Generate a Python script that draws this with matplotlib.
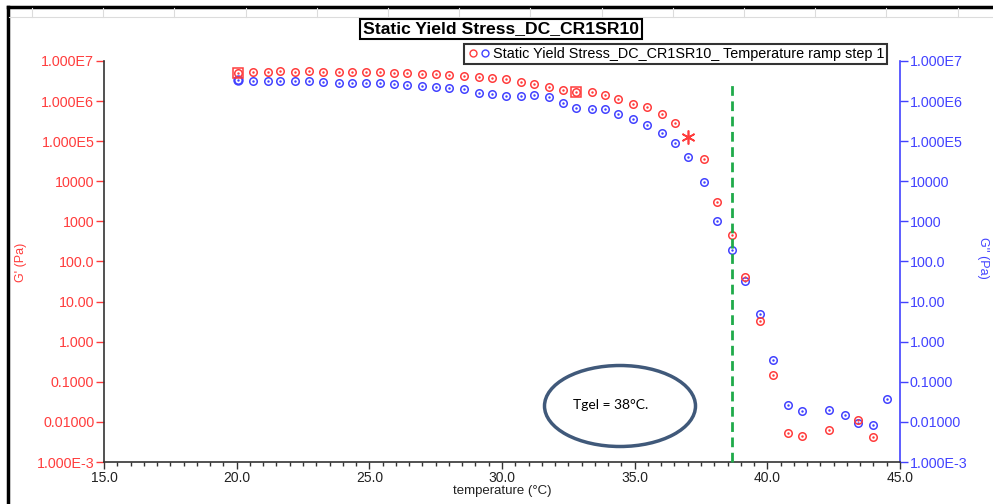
import numpy as np
import matplotlib
matplotlib.use("Agg")
import matplotlib.pyplot as plt
from matplotlib.patches import Ellipse, Rectangle
from matplotlib.lines import Line2D
from matplotlib.legend_handler import HandlerTuple
from matplotlib.ticker import FixedLocator, FixedFormatter, MultipleLocator, LogLocator, NullFormatter

plt.rcParams['font.family'] = ['Liberation Sans', 'DejaVu Sans']

# ---------------- data ----------------
temperature = [20.04, 20.63, 21.17, 21.65, 22.21, 22.74, 23.27, 23.85, 24.35, 24.88,
               25.41, 25.92, 26.43, 26.97, 27.53, 28.02, 28.57, 29.12, 29.62, 30.15,
               30.71, 31.20, 31.76, 32.29, 32.79, 33.39, 33.89, 34.39, 34.93, 35.47,
               36.02, 36.52, 37.02, 37.60, 38.09, 38.66, 39.15, 39.71, 40.20, 40.79,
               41.30, 42.34, 42.93, 43.42, 43.97, 44.50]
g_storage = [4.9e6, 5.25e6, 5.25e6, 5.5e6, 5.4e6, 5.5e6, 5.25e6, 5.25e6, 5.25e6, 5.25e6,
             5.25e6, 4.9e6, 4.9e6, 4.7e6, 4.7e6, 4.4e6, 4.2e6, 3.9e6, 3.7e6, 3.5e6,
             3.0e6, 2.65e6, 2.2e6, 1.9e6, 1.65e6, 1.7e6, 1.4e6, 1.1e6, 8.7e5, 7.1e5,
             4.7e5, 2.8e5, 1.3e5, 3.6e4, 3.0e3, 450, 42, 3.2, 0.148, 0.0054,
             0.0045, 0.0062, np.nan, 0.011, 0.0041, np.nan]
g_loss = [3.4e6, 3.2e6, 3.1e6, 3.1e6, 3.1e6, 3.1e6, 2.95e6, 2.75e6, 2.75e6, 2.75e6,
          2.75e6, 2.6e6, 2.45e6, 2.35e6, 2.2e6, 2.1e6, 1.95e6, 1.62e6, 1.48e6, 1.32e6,
          1.32e6, 1.41e6, 1.23e6, 9.1e5, 6.9e5, 6.3e5, 6.3e5, 4.9e5, 3.6e5, 2.5e5,
          1.6e5, 9.1e4, 4.0e4, 9.5e3, 1.0e3, 195, 33.5, 4.8, 0.35, 0.027,
          0.019, 0.020, 0.0148, 0.0093, 0.0083, 0.037]
square_idx = [0, 24]          # points drawn as squares on G'
asterisk_idx = [32]           # point drawn as asterisk on G'

x_ticks = [15, 20, 25, 30, 35, 40, 45]
x_tick_labels = ["15.0", "20.0", "25.0", "30.0", "35.0", "40.0", "45.0"]
y_ticks = [1e7, 1e6, 1e5, 1e4, 1e3, 1e2, 1e1, 1e0, 1e-1, 1e-2, 1e-3]
y_tick_labels = ["1.000E7", "1.000E6", "1.000E5", "10000", "1000", "100.0",
                 "10.00", "1.000", "0.1000", "0.01000", "1.000E-3"]
tgel_x = 38.66
tgel_top = 2.8e6
title = "Static Yield Stress_DC_CR1SR10"
legend_label = "Static Yield Stress_DC_CR1SR10_ Temperature ramp step 1"
annotation = "Tgel = 38°C."

RED = '#ff3c3c'
BLUE = '#4242ff'
DARK = '#333333'

# ---------------- figure ----------------
W, H = 993, 504
fig = plt.figure(figsize=(W / 100, H / 100), dpi=100)
fig.patch.set_facecolor('white')

def fx(px):
    return px / W

def fy(py):
    return 1 - py / H

ax = fig.add_axes([fx(104), fy(462), fx(900) - fx(104), fy(61) - fy(462)])
ax2 = ax.twinx()

t = np.array(temperature)
gs = np.array(g_storage, dtype=float)
gl = np.array(g_loss, dtype=float)

mask_c = np.ones(len(t), dtype=bool)
mask_c[asterisk_idx] = False

ms = 5.4
ax.plot(t[mask_c], gs[mask_c], 'o', ms=ms, mfc='none', mec=RED, mew=1.1, zorder=3)
ax.plot(t[mask_c], gs[mask_c], '.', ms=1.5, color=RED, zorder=3)
ax.plot(t[square_idx], gs[square_idx], 's', ms=6.5, mfc='none', mec=RED, mew=1.1, zorder=3)
ax.plot(t[asterisk_idx], gs[asterisk_idx], marker=(6, 2, 0), ls='none', ms=10, color=RED,
        mew=1.2, zorder=3)

ax2.plot(t, gl, 'o', ms=ms, mfc='none', mec=BLUE, mew=1.1, zorder=3)
ax2.plot(t, gl, '.', ms=1.5, color=BLUE, zorder=3)
ax2.plot(t[:1], gl[:1], 'o', ms=ms + 0.8, mfc='none', mec=BLUE, mew=1.3, zorder=3)

# gel line
ax.plot([tgel_x, tgel_x], [1e-3, tgel_top], ls=(0, (3.5, 2)), color='#1faa4a', lw=2.0, zorder=4,
        clip_on=False)

for a in (ax, ax2):
    a.set_yscale('log')
    a.set_ylim(1e-3, 1e7)
    a.set_xlim(15, 45)
    a.set_facecolor('none')

ax.set_zorder(2)
ax2.set_zorder(1)
ax.patch.set_visible(False)

# axis styles
ax.spines['top'].set_visible(False)
ax.spines['right'].set_visible(False)
ax.spines['left'].set_color(DARK)
ax.spines['bottom'].set_color(DARK)
ax2.spines['top'].set_visible(False)
ax2.spines['left'].set_visible(False)
ax2.spines['bottom'].set_visible(False)
ax2.spines['right'].set_color(BLUE)
ax2.spines['right'].set_linewidth(1.2)
ax.spines['left'].set_linewidth(1.2)
ax.spines['bottom'].set_linewidth(1.2)

ax.xaxis.set_major_locator(FixedLocator(x_ticks))
ax.xaxis.set_major_formatter(FixedFormatter(x_tick_labels))
ax.xaxis.set_minor_locator(MultipleLocator(0.5))
ax.tick_params(axis='x', which='major', direction='out', length=5, width=1, color=DARK,
               labelsize=10, labelcolor='#222222', pad=1.5)
ax.tick_params(axis='x', which='minor', direction='out', length=3, width=1, color=DARK)

for a, col, side in ((ax, RED, 'left'), (ax2, BLUE, 'right')):
    a.yaxis.set_major_locator(FixedLocator(y_ticks))
    a.yaxis.set_major_formatter(FixedFormatter(y_tick_labels))
    a.yaxis.set_minor_locator(LogLocator(base=10, subs=np.arange(2, 10)))
    a.yaxis.set_minor_formatter(NullFormatter())
    a.tick_params(axis='y', which='major', direction='out', length=6, width=1, color=col,
                  labelsize=10.3, labelcolor=col, pad=1)
    a.tick_params(axis='y', which='minor', direction='out', length=3, width=1, color=col)

# axis labels
fig.text(fx(502), fy(491), "temperature (°C)", ha='center', va='center', fontsize=9.5,
         color='#222222')
fig.text(fx(21), fy(262), "G' (Pa)", ha='center', va='center', rotation=90, fontsize=9,
         color=RED)
fig.text(fx(983), fy(258), "G'' (Pa)", ha='center', va='center', rotation=270, fontsize=9,
         color=BLUE)

# title box
fig.text(fx(501), fy(29), title, ha='center', va='center', fontsize=12.6, fontweight='bold',
         color='black',
         bbox=dict(boxstyle='square,pad=0.17', fc='white', ec='black', lw=1.5))

# legend
h_red = Line2D([], [], marker='o', ls='none', ms=5, mfc='none', mec=RED, mew=1.0)
h_blue = Line2D([], [], marker='o', ls='none', ms=5, mfc='none', mec=BLUE, mew=1.0)
leg = fig.legend([(h_red, h_blue)], [legend_label],
                 handler_map={tuple: HandlerTuple(ndivide=None, pad=0.1)},
                 loc='upper right', bbox_to_anchor=(fx(887), fy(44)),
                 bbox_transform=fig.transFigure, fontsize=10.4, frameon=True,
                 fancybox=False, edgecolor='black', borderpad=0.2,
                 handlelength=1.6, handletextpad=0.15, borderaxespad=0)
leg.get_frame().set_linewidth(1.5)

# ellipse annotation
ell = Ellipse((fx(620), fy(406)), fx(151), 81 / H, transform=fig.transFigure,
              fill=False, ec='#40597a', lw=2.5, zorder=5)
fig.add_artist(ell)
fig.text(fx(611), fy(405), annotation, ha='center', va='center', fontsize=10,
         family=['Lato', 'DejaVu Sans'], color='black')

# screenshot frame / header strip
fig.add_artist(Line2D([fx(8), 1], [fy(7), fy(7)], transform=fig.transFigure, color='black', lw=2.5))
fig.add_artist(Line2D([fx(8), fx(8)], [fy(7), 0], transform=fig.transFigure, color='black', lw=2.5))
fig.add_artist(Line2D([fx(9), 1], [fy(17), fy(17)], transform=fig.transFigure, color='#dcdcdc', lw=0.8))
for gx in np.arange(32, 993, 71.2):
    fig.add_artist(Line2D([fx(gx), fx(gx)], [fy(8), fy(17)], transform=fig.transFigure,
                          color='#dcdcdc', lw=0.8))

fig.savefig("out.png", dpi=100, facecolor='white')
